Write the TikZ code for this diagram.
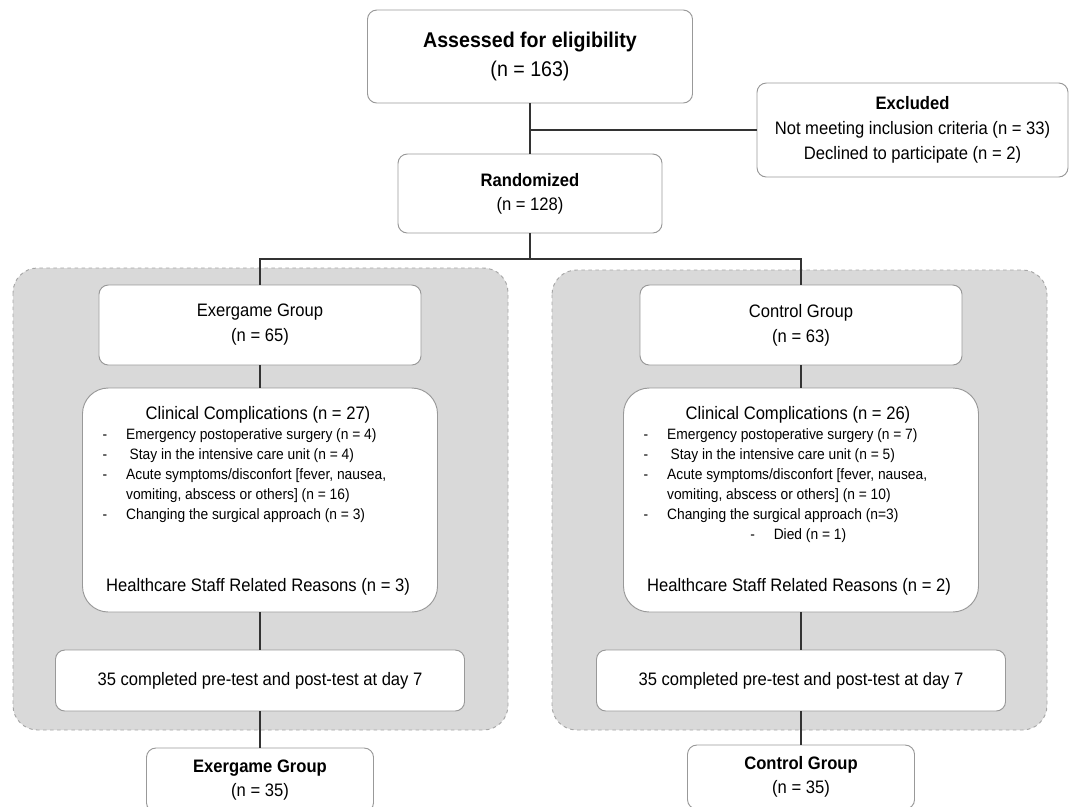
\documentclass[tikz,border=0pt]{standalone}
\usepackage{fontspec}
\setmainfont{Liberation Sans}[FakeStretch=0.92]

\tikzset{
  box/.style={draw=black!40,fill=white,rounded corners=8pt,line width=0.8pt,align=center,inner sep=0pt,font=\fontsize{15.4}{21.3}\selectfont},
  bigbox/.style={box,rounded corners=22pt},
  panel/.style={draw=black!35,fill=black!15,dashed,rounded corners=21pt,line width=0.8pt},
  link/.style={draw=black!80,line width=1pt},
  txt/.style={inner sep=0pt,align=center,font=\fontsize{15.4}{21.3}\selectfont},
  dashlist/.style={inner sep=0pt,align=left,anchor=north west,font=\fontsize{12.8}{17}\selectfont},
}
\newcommand{\dsh}{\makebox[20pt][l]{-}}

\begin{document}
\begin{tikzpicture}[x=0.03cm,y=-0.03cm]
\useasboundingbox (0,0) rectangle (1069,806);
\clip (0,0) rectangle (1069,806);

% group panels
\draw[panel] (13,268) rectangle (508,730);
\draw[panel] (552,270) rectangle (1047,730);

% enrolment
\node[box,minimum width=9.75cm,minimum height=2.79cm,font=\fontsize{18.2}{24}\selectfont] (assess) at (530,56.5)
  {\textbf{Assessed for eligibility}\\(n = 163)};
\node[box,minimum width=9.33cm,minimum height=2.82cm] (excl) at (912.5,130)
  {\textbf{Excluded}\\Not meeting inclusion criteria (n = 33)\\Declined to participate (n = 2)};
\node[box,minimum width=7.92cm,minimum height=2.37cm,font=\fontsize{15.4}{20.5}\selectfont] (rand) at (530,193.5)
  {\textbf{Randomized}\\(n = 128)};
\coordinate (brk) at (530,130);
\coordinate (split) at (530,259);

% exergame arm
\node[box,minimum width=9.66cm,minimum height=2.4cm] (exer) at (260,325) {Exergame Group\\(n = 65)};
\node[bigbox,minimum width=10.65cm,minimum height=6.72cm] (clinL) at (260,500) {};
\node[txt] (clinLt) at (258,415) {Clinical Complications (n = 27)};
\node[dashlist] (clinLl) at (102.5,428.5) {%
\dsh Emergency postoperative surgery (n = 4)\\
\dsh\hspace{3pt}Stay in the intensive care unit (n = 4)\\
\dsh Acute symptoms/disconfort [fever, nausea,\\
\hspace*{20pt}vomiting, abscess or others] (n = 16)\\
\dsh Changing the surgical approach (n = 3)};
\node[txt] (clinLh) at (258,587) {Healthcare Staff Related Reasons (n = 3)};
\node[box,minimum width=12.27cm,minimum height=1.83cm] (compL) at (260,680.5) {35 completed pre-test and post-test at day 7};
\node[box,minimum width=6.81cm,minimum height=1.92cm,font=\fontsize{15.4}{20.5}\selectfont] (finL) at (260,780) {\textbf{Exergame Group}\\(n = 35)};

% control arm
\node[box,minimum width=9.66cm,minimum height=2.4cm] (ctrl) at (801,325) {Control Group\\(n = 63)};
\node[bigbox,minimum width=10.65cm,minimum height=6.72cm] (clinR) at (801,500) {};
\node[txt] (clinRt) at (798,415) {Clinical Complications (n = 26)};
\node[dashlist] (clinRl) at (643.5,428.5) {%
\dsh Emergency postoperative surgery (n = 7)\\
\dsh\hspace{3pt}Stay in the intensive care unit (n = 5)\\
\dsh Acute symptoms/disconfort [fever, nausea,\\
\hspace*{20pt}vomiting, abscess or others] (n = 10)\\
\dsh Changing the surgical approach (n=3)\\
\hspace*{91pt}\dsh Died (n = 1)};
\node[txt] (clinRh) at (799,587) {Healthcare Staff Related Reasons (n = 2)};
\node[box,minimum width=12.27cm,minimum height=1.83cm] (compR) at (801,680.5) {35 completed pre-test and post-test at day 7};
\node[box,minimum width=6.81cm,minimum height=1.92cm,font=\fontsize{15.4}{20.5}\selectfont] (finR) at (801,777) {\textbf{Control Group}\\(n = 35)};

% connectors
\draw[link] (assess) -- (rand);
\draw[link] (brk) -- (excl.west |- brk);
\draw[link] (rand) -- (split);
\draw[link] (exer) |- (split) -| (ctrl);
\draw[link] (exer) -- (clinL);
\draw[link] (clinL) -- (compL);
\draw[link] (compL) -- (finL);
\draw[link] (ctrl) -- (clinR);
\draw[link] (clinR) -- (compR);
\draw[link] (compR) -- (finR);
\end{tikzpicture}
\end{document}
